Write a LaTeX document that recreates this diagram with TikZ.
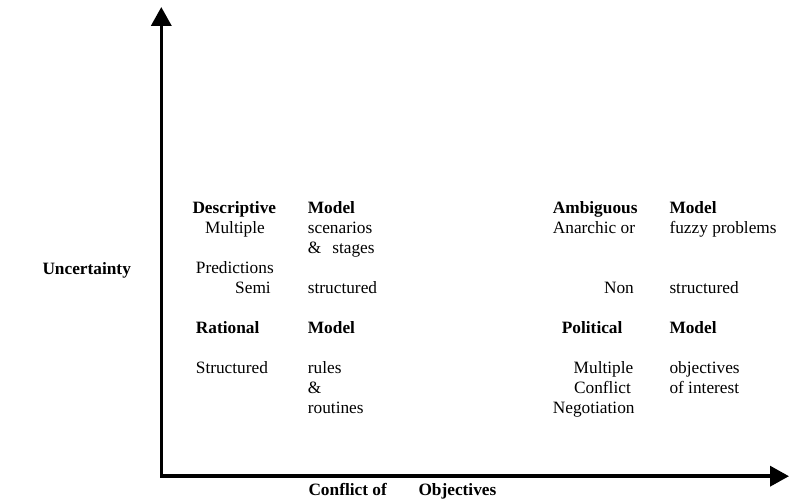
\documentclass[tikz,border=0pt]{standalone}
\usepackage{fontspec}
\setmainfont{Liberation Serif}
\usetikzlibrary{arrows.meta}

\tikzset{
  txt/.style={inner sep=0pt, font=\fontsize{17.3}{20}\selectfont},
  hd/.style={txt, font=\fontsize{17.3}{20}\selectfont\bfseries},
  axis/.style={line width=3.6pt, line join=miter,
    {Triangle[length=19pt,width=20pt]}-{Triangle[length=19pt,width=20pt]}}
}

\begin{document}
\begin{tikzpicture}[x=1pt, y=-1pt]

        \useasboundingbox (0,0) rectangle (808,502);

        % Axes
        \coordinate (ytop) at (161.3, 7);
        \coordinate (origin) at (161.3, 476.2);
        \coordinate (xend) at (789, 476.2);
        \draw[axis] (ytop) -- (origin) -- (xend);

        % Axis labels
        \node[hd, anchor=base west] (unc) at (42.3, 274.3) {Uncertainty};
        \node[hd, anchor=base west] (conf) at (308.3, 495) {Conflict of};
        \node[hd, anchor=base west] (obj) at (418.3, 495) {Objectives};

        % Descriptive model
        \node[hd, anchor=base west] (desc) at (192.3, 213.3) {Descriptive};
        \node[hd, anchor=base west] (descm) at (307.7, 213.3) {Model};
        \node[txt, anchor=base west] (mult) at (205, 233.3) {Multiple};
        \node[txt, anchor=base west] (scen) at (307.7, 233.3) {scenarios};
        \node[txt, anchor=base west] (stag) at (307.7, 253.3) {\&\hspace{11pt}stages};
        \node[txt, anchor=base west] (pred) at (195.7, 273.3) {Predictions};
        \node[txt, anchor=base east] (semi) at (271, 293.3) {Semi};
        \node[txt, anchor=base west] (sstr) at (307.7, 293.3) {structured};

        % Rational model
        \node[hd, anchor=base west] (rat) at (195.7, 333.3) {Rational};
        \node[hd, anchor=base west] (ratm) at (307.7, 333.3) {Model};
        \node[txt, anchor=base west] (str) at (195.7, 373.3) {Structured};
        \node[txt, anchor=base west] (rul) at (307.7, 373.3) {rules};
        \node[txt, anchor=base west] (amp) at (307.7, 393.3) {\&};
        \node[txt, anchor=base west] (rout) at (307.7, 413.3) {routines};

        % Ambiguous model
        \node[hd, anchor=base west] (amb) at (552.7, 213.3) {Ambiguous};
        \node[hd, anchor=base west] (ambm) at (669.3, 213.3) {Model};
        \node[txt, anchor=base west] (anar) at (552.7, 233.3) {Anarchic or};
        \node[txt, anchor=base west] (fuzz) at (669.3, 233.3) {fuzzy problems};
        \node[txt, anchor=base east] (non) at (634, 293.3) {Non};
        \node[txt, anchor=base west] (nstr) at (669.3, 293.3) {structured};

        % Political model
        \node[hd, anchor=base west] (pol) at (561.7, 333.3) {Political};
        \node[hd, anchor=base west] (polm) at (669.3, 333.3) {Model};
        \node[txt, anchor=base east] (pmul) at (633.5, 373.3) {Multiple};
        \node[txt, anchor=base west] (objs) at (669.3, 373.3) {objectives};
        \node[txt, anchor=base east] (pcon) at (631, 393.3) {Conflict};
        \node[txt, anchor=base west] (inter) at (669.3, 393.3) {of interest};
        \node[txt, anchor=base west] (neg) at (552.7, 413.3) {Negotiation};

    \end{tikzpicture}
\end{document}
